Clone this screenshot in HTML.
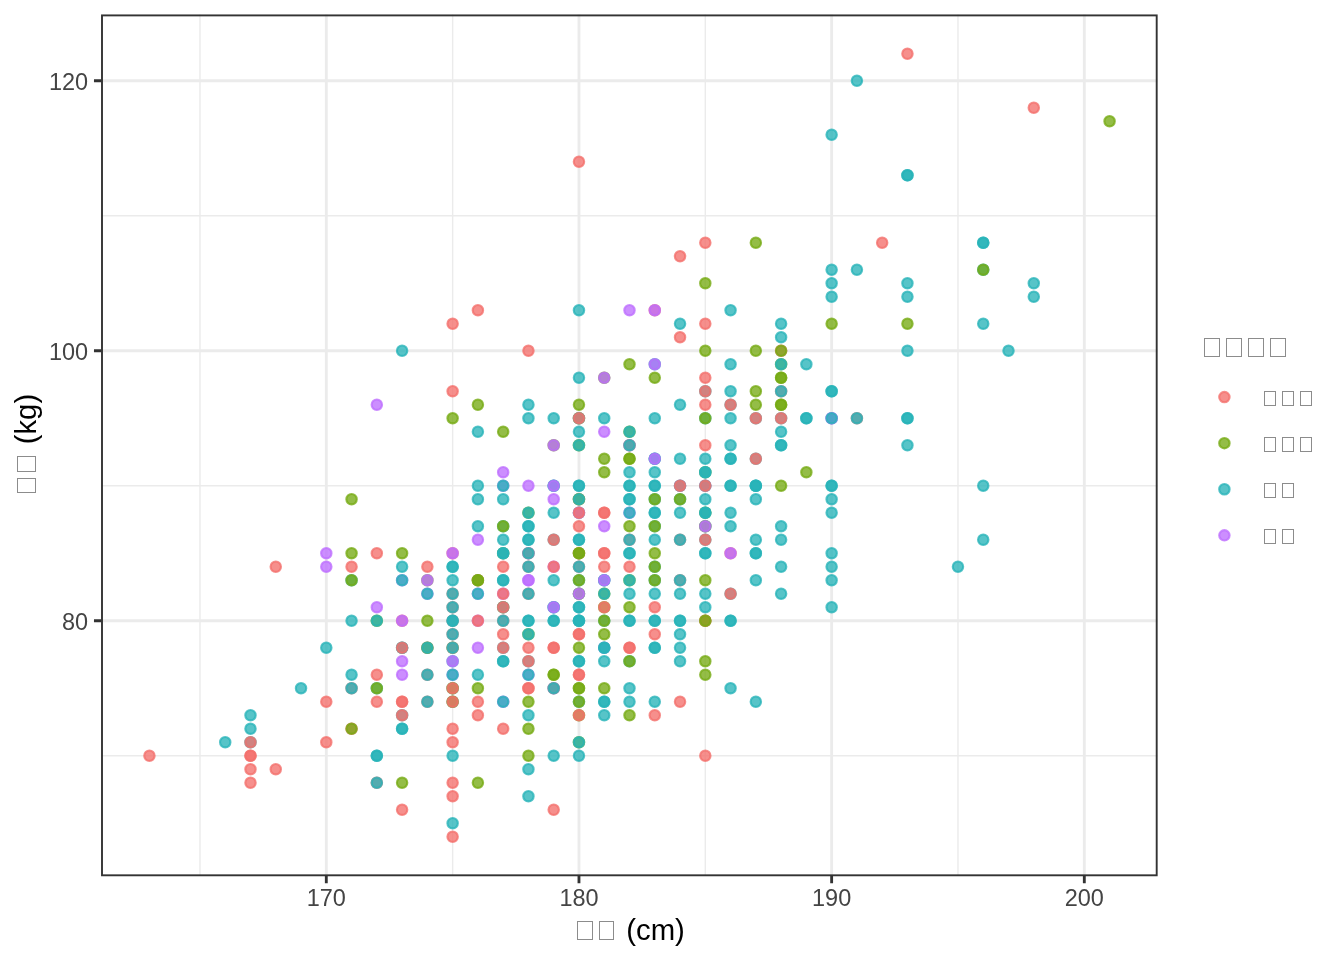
<!DOCTYPE html><html><head><meta charset="utf-8"><style>html,body{margin:0;padding:0;background:#fff;}svg{display:block;will-change:transform;}</style></head><body>
<svg width="1344" height="960" viewBox="0 0 1344 960">
<rect x="0" y="0" width="1344" height="960" fill="#fff"/>
<path d="M199.97 14.6V875.8M452.63 14.6V875.8M705.31 14.6V875.8M957.97 14.6V875.8M101.3 755.70H1157.5M101.3 485.70H1157.5M101.3 215.70H1157.5" stroke="#EBEBEB" stroke-width="1.42" fill="none"/>
<path d="M326.30 14.6V875.8M578.97 14.6V875.8M831.64 14.6V875.8M1084.31 14.6V875.8M101.3 620.70H1157.5M101.3 350.70H1157.5M101.3 80.70H1157.5" stroke="#EBEBEB" stroke-width="2.85" fill="none"/>
<g fill-opacity="0.78" stroke-opacity="0.78" stroke-width="2.1">
<circle cx="907.44" cy="53.70" r="5.21" fill="#F36F6C" stroke="#F36F6C"/>
<circle cx="856.91" cy="80.70" r="5.21" fill="#28B4B8" stroke="#28B4B8"/>
<circle cx="1033.78" cy="107.70" r="5.21" fill="#F36F6C" stroke="#F36F6C"/>
<circle cx="1109.58" cy="121.20" r="5.21" fill="#76AB13" stroke="#76AB13"/>
<circle cx="578.97" cy="161.70" r="5.21" fill="#F36F6C" stroke="#F36F6C"/>
<circle cx="831.64" cy="134.70" r="5.21" fill="#28B4B8" stroke="#28B4B8"/>
<circle cx="907.44" cy="175.20" r="5.21" fill="#28B4B8" stroke="#28B4B8"/>
<circle cx="907.44" cy="175.20" r="5.21" fill="#28B4B8" stroke="#28B4B8"/>
<circle cx="705.31" cy="242.70" r="5.21" fill="#F36F6C" stroke="#F36F6C"/>
<circle cx="680.04" cy="256.20" r="5.21" fill="#F36F6C" stroke="#F36F6C"/>
<circle cx="755.84" cy="242.70" r="5.21" fill="#76AB13" stroke="#76AB13"/>
<circle cx="882.17" cy="242.70" r="5.21" fill="#F36F6C" stroke="#F36F6C"/>
<circle cx="983.24" cy="242.70" r="5.21" fill="#28B4B8" stroke="#28B4B8"/>
<circle cx="983.24" cy="242.70" r="5.21" fill="#28B4B8" stroke="#28B4B8"/>
<circle cx="831.64" cy="269.70" r="5.21" fill="#28B4B8" stroke="#28B4B8"/>
<circle cx="856.91" cy="269.70" r="5.21" fill="#28B4B8" stroke="#28B4B8"/>
<circle cx="983.24" cy="269.70" r="5.21" fill="#28B4B8" stroke="#28B4B8"/>
<circle cx="983.24" cy="269.70" r="5.21" fill="#76AB13" stroke="#76AB13"/>
<circle cx="705.31" cy="283.20" r="5.21" fill="#76AB13" stroke="#76AB13"/>
<circle cx="831.64" cy="283.20" r="5.21" fill="#28B4B8" stroke="#28B4B8"/>
<circle cx="907.44" cy="283.20" r="5.21" fill="#28B4B8" stroke="#28B4B8"/>
<circle cx="1033.78" cy="283.20" r="5.21" fill="#28B4B8" stroke="#28B4B8"/>
<circle cx="831.64" cy="296.70" r="5.21" fill="#28B4B8" stroke="#28B4B8"/>
<circle cx="907.44" cy="296.70" r="5.21" fill="#28B4B8" stroke="#28B4B8"/>
<circle cx="1033.78" cy="296.70" r="5.21" fill="#28B4B8" stroke="#28B4B8"/>
<circle cx="578.97" cy="310.20" r="5.21" fill="#28B4B8" stroke="#28B4B8"/>
<circle cx="629.50" cy="310.20" r="5.21" fill="#BE6EFF" stroke="#BE6EFF"/>
<circle cx="654.77" cy="310.20" r="5.21" fill="#F36F6C" stroke="#F36F6C"/>
<circle cx="654.77" cy="310.20" r="5.21" fill="#BE6EFF" stroke="#BE6EFF"/>
<circle cx="730.57" cy="310.20" r="5.21" fill="#28B4B8" stroke="#28B4B8"/>
<circle cx="680.04" cy="323.70" r="5.21" fill="#28B4B8" stroke="#28B4B8"/>
<circle cx="705.31" cy="323.70" r="5.21" fill="#F36F6C" stroke="#F36F6C"/>
<circle cx="781.11" cy="323.70" r="5.21" fill="#28B4B8" stroke="#28B4B8"/>
<circle cx="831.64" cy="323.70" r="5.21" fill="#76AB13" stroke="#76AB13"/>
<circle cx="907.44" cy="323.70" r="5.21" fill="#76AB13" stroke="#76AB13"/>
<circle cx="983.24" cy="323.70" r="5.21" fill="#28B4B8" stroke="#28B4B8"/>
<circle cx="680.04" cy="337.20" r="5.21" fill="#F36F6C" stroke="#F36F6C"/>
<circle cx="781.11" cy="337.20" r="5.21" fill="#28B4B8" stroke="#28B4B8"/>
<circle cx="705.31" cy="350.70" r="5.21" fill="#76AB13" stroke="#76AB13"/>
<circle cx="755.84" cy="350.70" r="5.21" fill="#76AB13" stroke="#76AB13"/>
<circle cx="781.11" cy="350.70" r="5.21" fill="#F36F6C" stroke="#F36F6C"/>
<circle cx="781.11" cy="350.70" r="5.21" fill="#76AB13" stroke="#76AB13"/>
<circle cx="907.44" cy="350.70" r="5.21" fill="#28B4B8" stroke="#28B4B8"/>
<circle cx="1008.51" cy="350.70" r="5.21" fill="#28B4B8" stroke="#28B4B8"/>
<circle cx="402.10" cy="350.70" r="5.21" fill="#28B4B8" stroke="#28B4B8"/>
<circle cx="452.63" cy="323.70" r="5.21" fill="#F36F6C" stroke="#F36F6C"/>
<circle cx="477.90" cy="310.20" r="5.21" fill="#F36F6C" stroke="#F36F6C"/>
<circle cx="528.44" cy="350.70" r="5.21" fill="#F36F6C" stroke="#F36F6C"/>
<circle cx="376.83" cy="404.70" r="5.21" fill="#BE6EFF" stroke="#BE6EFF"/>
<circle cx="149.43" cy="755.70" r="5.21" fill="#F36F6C" stroke="#F36F6C"/>
<circle cx="225.23" cy="742.20" r="5.21" fill="#28B4B8" stroke="#28B4B8"/>
<circle cx="250.50" cy="715.20" r="5.21" fill="#28B4B8" stroke="#28B4B8"/>
<circle cx="250.50" cy="728.70" r="5.21" fill="#28B4B8" stroke="#28B4B8"/>
<circle cx="250.50" cy="742.20" r="5.21" fill="#28B4B8" stroke="#28B4B8"/>
<circle cx="250.50" cy="742.20" r="5.21" fill="#F36F6C" stroke="#F36F6C"/>
<circle cx="250.50" cy="755.70" r="5.21" fill="#F36F6C" stroke="#F36F6C"/>
<circle cx="250.50" cy="755.70" r="5.21" fill="#F36F6C" stroke="#F36F6C"/>
<circle cx="250.50" cy="769.20" r="5.21" fill="#F36F6C" stroke="#F36F6C"/>
<circle cx="250.50" cy="782.70" r="5.21" fill="#F36F6C" stroke="#F36F6C"/>
<circle cx="275.77" cy="769.20" r="5.21" fill="#F36F6C" stroke="#F36F6C"/>
<circle cx="275.77" cy="566.70" r="5.21" fill="#F36F6C" stroke="#F36F6C"/>
<circle cx="301.03" cy="688.20" r="5.21" fill="#28B4B8" stroke="#28B4B8"/>
<circle cx="326.30" cy="553.20" r="5.21" fill="#BE6EFF" stroke="#BE6EFF"/>
<circle cx="326.30" cy="566.70" r="5.21" fill="#BE6EFF" stroke="#BE6EFF"/>
<circle cx="326.30" cy="647.70" r="5.21" fill="#28B4B8" stroke="#28B4B8"/>
<circle cx="326.30" cy="701.70" r="5.21" fill="#F36F6C" stroke="#F36F6C"/>
<circle cx="326.30" cy="742.20" r="5.21" fill="#F36F6C" stroke="#F36F6C"/>
<circle cx="376.83" cy="701.70" r="5.21" fill="#F36F6C" stroke="#F36F6C"/>
<circle cx="402.10" cy="701.70" r="5.21" fill="#F36F6C" stroke="#F36F6C"/>
<circle cx="402.10" cy="701.70" r="5.21" fill="#F36F6C" stroke="#F36F6C"/>
<circle cx="427.37" cy="701.70" r="5.21" fill="#F36F6C" stroke="#F36F6C"/>
<circle cx="427.37" cy="701.70" r="5.21" fill="#28B4B8" stroke="#28B4B8"/>
<circle cx="452.63" cy="701.70" r="5.21" fill="#28B4B8" stroke="#28B4B8"/>
<circle cx="452.63" cy="701.70" r="5.21" fill="#76AB13" stroke="#76AB13"/>
<circle cx="452.63" cy="701.70" r="5.21" fill="#F36F6C" stroke="#F36F6C"/>
<circle cx="402.10" cy="715.20" r="5.21" fill="#28B4B8" stroke="#28B4B8"/>
<circle cx="402.10" cy="715.20" r="5.21" fill="#F36F6C" stroke="#F36F6C"/>
<circle cx="351.57" cy="728.70" r="5.21" fill="#F36F6C" stroke="#F36F6C"/>
<circle cx="351.57" cy="728.70" r="5.21" fill="#76AB13" stroke="#76AB13"/>
<circle cx="402.10" cy="728.70" r="5.21" fill="#28B4B8" stroke="#28B4B8"/>
<circle cx="402.10" cy="728.70" r="5.21" fill="#28B4B8" stroke="#28B4B8"/>
<circle cx="452.63" cy="728.70" r="5.21" fill="#F36F6C" stroke="#F36F6C"/>
<circle cx="452.63" cy="742.20" r="5.21" fill="#F36F6C" stroke="#F36F6C"/>
<circle cx="376.83" cy="755.70" r="5.21" fill="#28B4B8" stroke="#28B4B8"/>
<circle cx="376.83" cy="755.70" r="5.21" fill="#28B4B8" stroke="#28B4B8"/>
<circle cx="452.63" cy="755.70" r="5.21" fill="#28B4B8" stroke="#28B4B8"/>
<circle cx="376.83" cy="782.70" r="5.21" fill="#F36F6C" stroke="#F36F6C"/>
<circle cx="376.83" cy="782.70" r="5.21" fill="#28B4B8" stroke="#28B4B8"/>
<circle cx="402.10" cy="782.70" r="5.21" fill="#76AB13" stroke="#76AB13"/>
<circle cx="452.63" cy="782.70" r="5.21" fill="#F36F6C" stroke="#F36F6C"/>
<circle cx="452.63" cy="796.20" r="5.21" fill="#F36F6C" stroke="#F36F6C"/>
<circle cx="402.10" cy="809.70" r="5.21" fill="#F36F6C" stroke="#F36F6C"/>
<circle cx="452.63" cy="823.20" r="5.21" fill="#28B4B8" stroke="#28B4B8"/>
<circle cx="452.63" cy="836.70" r="5.21" fill="#F36F6C" stroke="#F36F6C"/>
<circle cx="351.57" cy="566.70" r="5.21" fill="#F36F6C" stroke="#F36F6C"/>
<circle cx="402.10" cy="566.70" r="5.21" fill="#28B4B8" stroke="#28B4B8"/>
<circle cx="427.37" cy="566.70" r="5.21" fill="#F36F6C" stroke="#F36F6C"/>
<circle cx="452.63" cy="566.70" r="5.21" fill="#28B4B8" stroke="#28B4B8"/>
<circle cx="452.63" cy="566.70" r="5.21" fill="#28B4B8" stroke="#28B4B8"/>
<circle cx="351.57" cy="580.20" r="5.21" fill="#28B4B8" stroke="#28B4B8"/>
<circle cx="351.57" cy="580.20" r="5.21" fill="#76AB13" stroke="#76AB13"/>
<circle cx="402.10" cy="580.20" r="5.21" fill="#BE6EFF" stroke="#BE6EFF"/>
<circle cx="402.10" cy="580.20" r="5.21" fill="#28B4B8" stroke="#28B4B8"/>
<circle cx="427.37" cy="580.20" r="5.21" fill="#76AB13" stroke="#76AB13"/>
<circle cx="427.37" cy="580.20" r="5.21" fill="#BE6EFF" stroke="#BE6EFF"/>
<circle cx="452.63" cy="580.20" r="5.21" fill="#28B4B8" stroke="#28B4B8"/>
<circle cx="427.37" cy="593.70" r="5.21" fill="#BE6EFF" stroke="#BE6EFF"/>
<circle cx="427.37" cy="593.70" r="5.21" fill="#28B4B8" stroke="#28B4B8"/>
<circle cx="452.63" cy="593.70" r="5.21" fill="#F36F6C" stroke="#F36F6C"/>
<circle cx="452.63" cy="593.70" r="5.21" fill="#28B4B8" stroke="#28B4B8"/>
<circle cx="376.83" cy="607.20" r="5.21" fill="#BE6EFF" stroke="#BE6EFF"/>
<circle cx="452.63" cy="607.20" r="5.21" fill="#F36F6C" stroke="#F36F6C"/>
<circle cx="452.63" cy="607.20" r="5.21" fill="#28B4B8" stroke="#28B4B8"/>
<circle cx="351.57" cy="620.70" r="5.21" fill="#28B4B8" stroke="#28B4B8"/>
<circle cx="376.83" cy="620.70" r="5.21" fill="#76AB13" stroke="#76AB13"/>
<circle cx="376.83" cy="620.70" r="5.21" fill="#28B4B8" stroke="#28B4B8"/>
<circle cx="402.10" cy="620.70" r="5.21" fill="#F36F6C" stroke="#F36F6C"/>
<circle cx="402.10" cy="620.70" r="5.21" fill="#BE6EFF" stroke="#BE6EFF"/>
<circle cx="427.37" cy="620.70" r="5.21" fill="#76AB13" stroke="#76AB13"/>
<circle cx="452.63" cy="620.70" r="5.21" fill="#F36F6C" stroke="#F36F6C"/>
<circle cx="452.63" cy="620.70" r="5.21" fill="#28B4B8" stroke="#28B4B8"/>
<circle cx="452.63" cy="620.70" r="5.21" fill="#28B4B8" stroke="#28B4B8"/>
<circle cx="452.63" cy="634.20" r="5.21" fill="#F36F6C" stroke="#F36F6C"/>
<circle cx="452.63" cy="634.20" r="5.21" fill="#28B4B8" stroke="#28B4B8"/>
<circle cx="402.10" cy="647.70" r="5.21" fill="#28B4B8" stroke="#28B4B8"/>
<circle cx="402.10" cy="647.70" r="5.21" fill="#28B4B8" stroke="#28B4B8"/>
<circle cx="402.10" cy="647.70" r="5.21" fill="#F36F6C" stroke="#F36F6C"/>
<circle cx="427.37" cy="647.70" r="5.21" fill="#F36F6C" stroke="#F36F6C"/>
<circle cx="427.37" cy="647.70" r="5.21" fill="#76AB13" stroke="#76AB13"/>
<circle cx="427.37" cy="647.70" r="5.21" fill="#28B4B8" stroke="#28B4B8"/>
<circle cx="452.63" cy="647.70" r="5.21" fill="#76AB13" stroke="#76AB13"/>
<circle cx="452.63" cy="647.70" r="5.21" fill="#F36F6C" stroke="#F36F6C"/>
<circle cx="452.63" cy="647.70" r="5.21" fill="#28B4B8" stroke="#28B4B8"/>
<circle cx="402.10" cy="661.20" r="5.21" fill="#BE6EFF" stroke="#BE6EFF"/>
<circle cx="452.63" cy="661.20" r="5.21" fill="#28B4B8" stroke="#28B4B8"/>
<circle cx="452.63" cy="661.20" r="5.21" fill="#BE6EFF" stroke="#BE6EFF"/>
<circle cx="351.57" cy="674.70" r="5.21" fill="#28B4B8" stroke="#28B4B8"/>
<circle cx="376.83" cy="674.70" r="5.21" fill="#F36F6C" stroke="#F36F6C"/>
<circle cx="402.10" cy="674.70" r="5.21" fill="#BE6EFF" stroke="#BE6EFF"/>
<circle cx="427.37" cy="674.70" r="5.21" fill="#F36F6C" stroke="#F36F6C"/>
<circle cx="427.37" cy="674.70" r="5.21" fill="#28B4B8" stroke="#28B4B8"/>
<circle cx="452.63" cy="674.70" r="5.21" fill="#BE6EFF" stroke="#BE6EFF"/>
<circle cx="452.63" cy="674.70" r="5.21" fill="#28B4B8" stroke="#28B4B8"/>
<circle cx="351.57" cy="688.20" r="5.21" fill="#F36F6C" stroke="#F36F6C"/>
<circle cx="351.57" cy="688.20" r="5.21" fill="#28B4B8" stroke="#28B4B8"/>
<circle cx="376.83" cy="688.20" r="5.21" fill="#28B4B8" stroke="#28B4B8"/>
<circle cx="376.83" cy="688.20" r="5.21" fill="#76AB13" stroke="#76AB13"/>
<circle cx="452.63" cy="688.20" r="5.21" fill="#28B4B8" stroke="#28B4B8"/>
<circle cx="452.63" cy="688.20" r="5.21" fill="#76AB13" stroke="#76AB13"/>
<circle cx="452.63" cy="688.20" r="5.21" fill="#F36F6C" stroke="#F36F6C"/>
<circle cx="351.57" cy="499.20" r="5.21" fill="#76AB13" stroke="#76AB13"/>
<circle cx="351.57" cy="553.20" r="5.21" fill="#76AB13" stroke="#76AB13"/>
<circle cx="376.83" cy="553.20" r="5.21" fill="#F36F6C" stroke="#F36F6C"/>
<circle cx="402.10" cy="553.20" r="5.21" fill="#76AB13" stroke="#76AB13"/>
<circle cx="452.63" cy="553.20" r="5.21" fill="#F36F6C" stroke="#F36F6C"/>
<circle cx="452.63" cy="553.20" r="5.21" fill="#BE6EFF" stroke="#BE6EFF"/>
<circle cx="477.90" cy="701.70" r="5.21" fill="#F36F6C" stroke="#F36F6C"/>
<circle cx="503.17" cy="701.70" r="5.21" fill="#BE6EFF" stroke="#BE6EFF"/>
<circle cx="503.17" cy="701.70" r="5.21" fill="#28B4B8" stroke="#28B4B8"/>
<circle cx="528.44" cy="701.70" r="5.21" fill="#76AB13" stroke="#76AB13"/>
<circle cx="578.97" cy="701.70" r="5.21" fill="#28B4B8" stroke="#28B4B8"/>
<circle cx="578.97" cy="701.70" r="5.21" fill="#76AB13" stroke="#76AB13"/>
<circle cx="477.90" cy="715.20" r="5.21" fill="#F36F6C" stroke="#F36F6C"/>
<circle cx="528.44" cy="715.20" r="5.21" fill="#28B4B8" stroke="#28B4B8"/>
<circle cx="578.97" cy="715.20" r="5.21" fill="#76AB13" stroke="#76AB13"/>
<circle cx="578.97" cy="715.20" r="5.21" fill="#F36F6C" stroke="#F36F6C"/>
<circle cx="503.17" cy="728.70" r="5.21" fill="#F36F6C" stroke="#F36F6C"/>
<circle cx="528.44" cy="728.70" r="5.21" fill="#76AB13" stroke="#76AB13"/>
<circle cx="578.97" cy="742.20" r="5.21" fill="#76AB13" stroke="#76AB13"/>
<circle cx="578.97" cy="742.20" r="5.21" fill="#28B4B8" stroke="#28B4B8"/>
<circle cx="528.44" cy="755.70" r="5.21" fill="#76AB13" stroke="#76AB13"/>
<circle cx="553.70" cy="755.70" r="5.21" fill="#28B4B8" stroke="#28B4B8"/>
<circle cx="578.97" cy="755.70" r="5.21" fill="#28B4B8" stroke="#28B4B8"/>
<circle cx="528.44" cy="769.20" r="5.21" fill="#28B4B8" stroke="#28B4B8"/>
<circle cx="477.90" cy="782.70" r="5.21" fill="#76AB13" stroke="#76AB13"/>
<circle cx="528.44" cy="796.20" r="5.21" fill="#28B4B8" stroke="#28B4B8"/>
<circle cx="553.70" cy="809.70" r="5.21" fill="#F36F6C" stroke="#F36F6C"/>
<circle cx="503.17" cy="566.70" r="5.21" fill="#F36F6C" stroke="#F36F6C"/>
<circle cx="528.44" cy="566.70" r="5.21" fill="#F36F6C" stroke="#F36F6C"/>
<circle cx="528.44" cy="566.70" r="5.21" fill="#28B4B8" stroke="#28B4B8"/>
<circle cx="553.70" cy="566.70" r="5.21" fill="#BE6EFF" stroke="#BE6EFF"/>
<circle cx="553.70" cy="566.70" r="5.21" fill="#F36F6C" stroke="#F36F6C"/>
<circle cx="578.97" cy="566.70" r="5.21" fill="#F36F6C" stroke="#F36F6C"/>
<circle cx="578.97" cy="566.70" r="5.21" fill="#28B4B8" stroke="#28B4B8"/>
<circle cx="477.90" cy="580.20" r="5.21" fill="#F36F6C" stroke="#F36F6C"/>
<circle cx="477.90" cy="580.20" r="5.21" fill="#76AB13" stroke="#76AB13"/>
<circle cx="477.90" cy="580.20" r="5.21" fill="#76AB13" stroke="#76AB13"/>
<circle cx="503.17" cy="580.20" r="5.21" fill="#28B4B8" stroke="#28B4B8"/>
<circle cx="503.17" cy="580.20" r="5.21" fill="#28B4B8" stroke="#28B4B8"/>
<circle cx="528.44" cy="580.20" r="5.21" fill="#BE6EFF" stroke="#BE6EFF"/>
<circle cx="528.44" cy="580.20" r="5.21" fill="#BE6EFF" stroke="#BE6EFF"/>
<circle cx="553.70" cy="580.20" r="5.21" fill="#28B4B8" stroke="#28B4B8"/>
<circle cx="578.97" cy="580.20" r="5.21" fill="#28B4B8" stroke="#28B4B8"/>
<circle cx="578.97" cy="580.20" r="5.21" fill="#76AB13" stroke="#76AB13"/>
<circle cx="477.90" cy="593.70" r="5.21" fill="#BE6EFF" stroke="#BE6EFF"/>
<circle cx="477.90" cy="593.70" r="5.21" fill="#28B4B8" stroke="#28B4B8"/>
<circle cx="503.17" cy="593.70" r="5.21" fill="#BE6EFF" stroke="#BE6EFF"/>
<circle cx="503.17" cy="593.70" r="5.21" fill="#F36F6C" stroke="#F36F6C"/>
<circle cx="528.44" cy="593.70" r="5.21" fill="#F36F6C" stroke="#F36F6C"/>
<circle cx="528.44" cy="593.70" r="5.21" fill="#28B4B8" stroke="#28B4B8"/>
<circle cx="578.97" cy="593.70" r="5.21" fill="#28B4B8" stroke="#28B4B8"/>
<circle cx="578.97" cy="593.70" r="5.21" fill="#76AB13" stroke="#76AB13"/>
<circle cx="578.97" cy="593.70" r="5.21" fill="#BE6EFF" stroke="#BE6EFF"/>
<circle cx="503.17" cy="607.20" r="5.21" fill="#76AB13" stroke="#76AB13"/>
<circle cx="503.17" cy="607.20" r="5.21" fill="#28B4B8" stroke="#28B4B8"/>
<circle cx="503.17" cy="607.20" r="5.21" fill="#F36F6C" stroke="#F36F6C"/>
<circle cx="553.70" cy="607.20" r="5.21" fill="#28B4B8" stroke="#28B4B8"/>
<circle cx="553.70" cy="607.20" r="5.21" fill="#28B4B8" stroke="#28B4B8"/>
<circle cx="553.70" cy="607.20" r="5.21" fill="#BE6EFF" stroke="#BE6EFF"/>
<circle cx="578.97" cy="607.20" r="5.21" fill="#28B4B8" stroke="#28B4B8"/>
<circle cx="578.97" cy="607.20" r="5.21" fill="#28B4B8" stroke="#28B4B8"/>
<circle cx="477.90" cy="620.70" r="5.21" fill="#BE6EFF" stroke="#BE6EFF"/>
<circle cx="477.90" cy="620.70" r="5.21" fill="#F36F6C" stroke="#F36F6C"/>
<circle cx="503.17" cy="620.70" r="5.21" fill="#F36F6C" stroke="#F36F6C"/>
<circle cx="503.17" cy="620.70" r="5.21" fill="#28B4B8" stroke="#28B4B8"/>
<circle cx="528.44" cy="620.70" r="5.21" fill="#28B4B8" stroke="#28B4B8"/>
<circle cx="528.44" cy="620.70" r="5.21" fill="#28B4B8" stroke="#28B4B8"/>
<circle cx="553.70" cy="620.70" r="5.21" fill="#28B4B8" stroke="#28B4B8"/>
<circle cx="553.70" cy="620.70" r="5.21" fill="#28B4B8" stroke="#28B4B8"/>
<circle cx="578.97" cy="620.70" r="5.21" fill="#28B4B8" stroke="#28B4B8"/>
<circle cx="578.97" cy="620.70" r="5.21" fill="#28B4B8" stroke="#28B4B8"/>
<circle cx="578.97" cy="620.70" r="5.21" fill="#28B4B8" stroke="#28B4B8"/>
<circle cx="503.17" cy="634.20" r="5.21" fill="#F36F6C" stroke="#F36F6C"/>
<circle cx="528.44" cy="634.20" r="5.21" fill="#76AB13" stroke="#76AB13"/>
<circle cx="528.44" cy="634.20" r="5.21" fill="#28B4B8" stroke="#28B4B8"/>
<circle cx="578.97" cy="634.20" r="5.21" fill="#F36F6C" stroke="#F36F6C"/>
<circle cx="578.97" cy="634.20" r="5.21" fill="#F36F6C" stroke="#F36F6C"/>
<circle cx="477.90" cy="647.70" r="5.21" fill="#BE6EFF" stroke="#BE6EFF"/>
<circle cx="503.17" cy="647.70" r="5.21" fill="#28B4B8" stroke="#28B4B8"/>
<circle cx="503.17" cy="647.70" r="5.21" fill="#F36F6C" stroke="#F36F6C"/>
<circle cx="528.44" cy="647.70" r="5.21" fill="#F36F6C" stroke="#F36F6C"/>
<circle cx="553.70" cy="647.70" r="5.21" fill="#F36F6C" stroke="#F36F6C"/>
<circle cx="553.70" cy="647.70" r="5.21" fill="#F36F6C" stroke="#F36F6C"/>
<circle cx="578.97" cy="647.70" r="5.21" fill="#76AB13" stroke="#76AB13"/>
<circle cx="503.17" cy="661.20" r="5.21" fill="#28B4B8" stroke="#28B4B8"/>
<circle cx="503.17" cy="661.20" r="5.21" fill="#28B4B8" stroke="#28B4B8"/>
<circle cx="528.44" cy="661.20" r="5.21" fill="#28B4B8" stroke="#28B4B8"/>
<circle cx="528.44" cy="661.20" r="5.21" fill="#F36F6C" stroke="#F36F6C"/>
<circle cx="578.97" cy="661.20" r="5.21" fill="#28B4B8" stroke="#28B4B8"/>
<circle cx="578.97" cy="661.20" r="5.21" fill="#28B4B8" stroke="#28B4B8"/>
<circle cx="477.90" cy="674.70" r="5.21" fill="#28B4B8" stroke="#28B4B8"/>
<circle cx="528.44" cy="674.70" r="5.21" fill="#BE6EFF" stroke="#BE6EFF"/>
<circle cx="528.44" cy="674.70" r="5.21" fill="#28B4B8" stroke="#28B4B8"/>
<circle cx="553.70" cy="674.70" r="5.21" fill="#76AB13" stroke="#76AB13"/>
<circle cx="553.70" cy="674.70" r="5.21" fill="#76AB13" stroke="#76AB13"/>
<circle cx="578.97" cy="674.70" r="5.21" fill="#F36F6C" stroke="#F36F6C"/>
<circle cx="578.97" cy="674.70" r="5.21" fill="#F36F6C" stroke="#F36F6C"/>
<circle cx="477.90" cy="688.20" r="5.21" fill="#76AB13" stroke="#76AB13"/>
<circle cx="528.44" cy="688.20" r="5.21" fill="#F36F6C" stroke="#F36F6C"/>
<circle cx="528.44" cy="688.20" r="5.21" fill="#F36F6C" stroke="#F36F6C"/>
<circle cx="553.70" cy="688.20" r="5.21" fill="#BE6EFF" stroke="#BE6EFF"/>
<circle cx="553.70" cy="688.20" r="5.21" fill="#F36F6C" stroke="#F36F6C"/>
<circle cx="553.70" cy="688.20" r="5.21" fill="#28B4B8" stroke="#28B4B8"/>
<circle cx="578.97" cy="688.20" r="5.21" fill="#76AB13" stroke="#76AB13"/>
<circle cx="578.97" cy="688.20" r="5.21" fill="#76AB13" stroke="#76AB13"/>
<circle cx="477.90" cy="431.70" r="5.21" fill="#28B4B8" stroke="#28B4B8"/>
<circle cx="503.17" cy="431.70" r="5.21" fill="#76AB13" stroke="#76AB13"/>
<circle cx="578.97" cy="431.70" r="5.21" fill="#28B4B8" stroke="#28B4B8"/>
<circle cx="553.70" cy="445.20" r="5.21" fill="#76AB13" stroke="#76AB13"/>
<circle cx="553.70" cy="445.20" r="5.21" fill="#BE6EFF" stroke="#BE6EFF"/>
<circle cx="578.97" cy="445.20" r="5.21" fill="#76AB13" stroke="#76AB13"/>
<circle cx="578.97" cy="445.20" r="5.21" fill="#28B4B8" stroke="#28B4B8"/>
<circle cx="503.17" cy="472.20" r="5.21" fill="#BE6EFF" stroke="#BE6EFF"/>
<circle cx="477.90" cy="485.70" r="5.21" fill="#28B4B8" stroke="#28B4B8"/>
<circle cx="503.17" cy="485.70" r="5.21" fill="#BE6EFF" stroke="#BE6EFF"/>
<circle cx="503.17" cy="485.70" r="5.21" fill="#28B4B8" stroke="#28B4B8"/>
<circle cx="528.44" cy="485.70" r="5.21" fill="#BE6EFF" stroke="#BE6EFF"/>
<circle cx="553.70" cy="485.70" r="5.21" fill="#28B4B8" stroke="#28B4B8"/>
<circle cx="553.70" cy="485.70" r="5.21" fill="#28B4B8" stroke="#28B4B8"/>
<circle cx="553.70" cy="485.70" r="5.21" fill="#BE6EFF" stroke="#BE6EFF"/>
<circle cx="578.97" cy="485.70" r="5.21" fill="#28B4B8" stroke="#28B4B8"/>
<circle cx="578.97" cy="485.70" r="5.21" fill="#28B4B8" stroke="#28B4B8"/>
<circle cx="477.90" cy="499.20" r="5.21" fill="#28B4B8" stroke="#28B4B8"/>
<circle cx="503.17" cy="499.20" r="5.21" fill="#28B4B8" stroke="#28B4B8"/>
<circle cx="553.70" cy="499.20" r="5.21" fill="#BE6EFF" stroke="#BE6EFF"/>
<circle cx="578.97" cy="499.20" r="5.21" fill="#F36F6C" stroke="#F36F6C"/>
<circle cx="578.97" cy="499.20" r="5.21" fill="#76AB13" stroke="#76AB13"/>
<circle cx="578.97" cy="499.20" r="5.21" fill="#28B4B8" stroke="#28B4B8"/>
<circle cx="528.44" cy="512.70" r="5.21" fill="#76AB13" stroke="#76AB13"/>
<circle cx="528.44" cy="512.70" r="5.21" fill="#28B4B8" stroke="#28B4B8"/>
<circle cx="553.70" cy="512.70" r="5.21" fill="#28B4B8" stroke="#28B4B8"/>
<circle cx="578.97" cy="512.70" r="5.21" fill="#28B4B8" stroke="#28B4B8"/>
<circle cx="578.97" cy="512.70" r="5.21" fill="#BE6EFF" stroke="#BE6EFF"/>
<circle cx="578.97" cy="512.70" r="5.21" fill="#F36F6C" stroke="#F36F6C"/>
<circle cx="477.90" cy="526.20" r="5.21" fill="#28B4B8" stroke="#28B4B8"/>
<circle cx="503.17" cy="526.20" r="5.21" fill="#28B4B8" stroke="#28B4B8"/>
<circle cx="503.17" cy="526.20" r="5.21" fill="#76AB13" stroke="#76AB13"/>
<circle cx="528.44" cy="526.20" r="5.21" fill="#28B4B8" stroke="#28B4B8"/>
<circle cx="528.44" cy="526.20" r="5.21" fill="#28B4B8" stroke="#28B4B8"/>
<circle cx="578.97" cy="526.20" r="5.21" fill="#F36F6C" stroke="#F36F6C"/>
<circle cx="477.90" cy="539.70" r="5.21" fill="#BE6EFF" stroke="#BE6EFF"/>
<circle cx="503.17" cy="539.70" r="5.21" fill="#28B4B8" stroke="#28B4B8"/>
<circle cx="528.44" cy="539.70" r="5.21" fill="#28B4B8" stroke="#28B4B8"/>
<circle cx="528.44" cy="539.70" r="5.21" fill="#28B4B8" stroke="#28B4B8"/>
<circle cx="553.70" cy="539.70" r="5.21" fill="#28B4B8" stroke="#28B4B8"/>
<circle cx="553.70" cy="539.70" r="5.21" fill="#F36F6C" stroke="#F36F6C"/>
<circle cx="578.97" cy="539.70" r="5.21" fill="#28B4B8" stroke="#28B4B8"/>
<circle cx="578.97" cy="539.70" r="5.21" fill="#28B4B8" stroke="#28B4B8"/>
<circle cx="503.17" cy="553.20" r="5.21" fill="#76AB13" stroke="#76AB13"/>
<circle cx="503.17" cy="553.20" r="5.21" fill="#28B4B8" stroke="#28B4B8"/>
<circle cx="503.17" cy="553.20" r="5.21" fill="#28B4B8" stroke="#28B4B8"/>
<circle cx="528.44" cy="553.20" r="5.21" fill="#BE6EFF" stroke="#BE6EFF"/>
<circle cx="528.44" cy="553.20" r="5.21" fill="#F36F6C" stroke="#F36F6C"/>
<circle cx="528.44" cy="553.20" r="5.21" fill="#28B4B8" stroke="#28B4B8"/>
<circle cx="578.97" cy="553.20" r="5.21" fill="#F36F6C" stroke="#F36F6C"/>
<circle cx="578.97" cy="553.20" r="5.21" fill="#76AB13" stroke="#76AB13"/>
<circle cx="578.97" cy="553.20" r="5.21" fill="#76AB13" stroke="#76AB13"/>
<circle cx="578.97" cy="377.70" r="5.21" fill="#28B4B8" stroke="#28B4B8"/>
<circle cx="452.63" cy="391.20" r="5.21" fill="#F36F6C" stroke="#F36F6C"/>
<circle cx="477.90" cy="404.70" r="5.21" fill="#76AB13" stroke="#76AB13"/>
<circle cx="528.44" cy="404.70" r="5.21" fill="#28B4B8" stroke="#28B4B8"/>
<circle cx="578.97" cy="404.70" r="5.21" fill="#76AB13" stroke="#76AB13"/>
<circle cx="452.63" cy="418.20" r="5.21" fill="#76AB13" stroke="#76AB13"/>
<circle cx="528.44" cy="418.20" r="5.21" fill="#28B4B8" stroke="#28B4B8"/>
<circle cx="553.70" cy="418.20" r="5.21" fill="#28B4B8" stroke="#28B4B8"/>
<circle cx="578.97" cy="418.20" r="5.21" fill="#76AB13" stroke="#76AB13"/>
<circle cx="578.97" cy="418.20" r="5.21" fill="#28B4B8" stroke="#28B4B8"/>
<circle cx="578.97" cy="418.20" r="5.21" fill="#F36F6C" stroke="#F36F6C"/>
<circle cx="604.24" cy="701.70" r="5.21" fill="#28B4B8" stroke="#28B4B8"/>
<circle cx="604.24" cy="701.70" r="5.21" fill="#28B4B8" stroke="#28B4B8"/>
<circle cx="629.50" cy="701.70" r="5.21" fill="#28B4B8" stroke="#28B4B8"/>
<circle cx="654.77" cy="701.70" r="5.21" fill="#28B4B8" stroke="#28B4B8"/>
<circle cx="680.04" cy="701.70" r="5.21" fill="#F36F6C" stroke="#F36F6C"/>
<circle cx="604.24" cy="715.20" r="5.21" fill="#28B4B8" stroke="#28B4B8"/>
<circle cx="629.50" cy="715.20" r="5.21" fill="#76AB13" stroke="#76AB13"/>
<circle cx="654.77" cy="715.20" r="5.21" fill="#F36F6C" stroke="#F36F6C"/>
<circle cx="705.31" cy="755.70" r="5.21" fill="#F36F6C" stroke="#F36F6C"/>
<circle cx="604.24" cy="566.70" r="5.21" fill="#F36F6C" stroke="#F36F6C"/>
<circle cx="629.50" cy="566.70" r="5.21" fill="#F36F6C" stroke="#F36F6C"/>
<circle cx="654.77" cy="566.70" r="5.21" fill="#28B4B8" stroke="#28B4B8"/>
<circle cx="654.77" cy="566.70" r="5.21" fill="#76AB13" stroke="#76AB13"/>
<circle cx="604.24" cy="580.20" r="5.21" fill="#28B4B8" stroke="#28B4B8"/>
<circle cx="604.24" cy="580.20" r="5.21" fill="#28B4B8" stroke="#28B4B8"/>
<circle cx="604.24" cy="580.20" r="5.21" fill="#BE6EFF" stroke="#BE6EFF"/>
<circle cx="629.50" cy="580.20" r="5.21" fill="#76AB13" stroke="#76AB13"/>
<circle cx="629.50" cy="580.20" r="5.21" fill="#28B4B8" stroke="#28B4B8"/>
<circle cx="654.77" cy="580.20" r="5.21" fill="#28B4B8" stroke="#28B4B8"/>
<circle cx="654.77" cy="580.20" r="5.21" fill="#76AB13" stroke="#76AB13"/>
<circle cx="680.04" cy="580.20" r="5.21" fill="#F36F6C" stroke="#F36F6C"/>
<circle cx="680.04" cy="580.20" r="5.21" fill="#28B4B8" stroke="#28B4B8"/>
<circle cx="705.31" cy="580.20" r="5.21" fill="#76AB13" stroke="#76AB13"/>
<circle cx="604.24" cy="593.70" r="5.21" fill="#76AB13" stroke="#76AB13"/>
<circle cx="604.24" cy="593.70" r="5.21" fill="#28B4B8" stroke="#28B4B8"/>
<circle cx="629.50" cy="593.70" r="5.21" fill="#28B4B8" stroke="#28B4B8"/>
<circle cx="654.77" cy="593.70" r="5.21" fill="#28B4B8" stroke="#28B4B8"/>
<circle cx="680.04" cy="593.70" r="5.21" fill="#28B4B8" stroke="#28B4B8"/>
<circle cx="705.31" cy="593.70" r="5.21" fill="#28B4B8" stroke="#28B4B8"/>
<circle cx="604.24" cy="607.20" r="5.21" fill="#76AB13" stroke="#76AB13"/>
<circle cx="604.24" cy="607.20" r="5.21" fill="#F36F6C" stroke="#F36F6C"/>
<circle cx="629.50" cy="607.20" r="5.21" fill="#76AB13" stroke="#76AB13"/>
<circle cx="654.77" cy="607.20" r="5.21" fill="#F36F6C" stroke="#F36F6C"/>
<circle cx="705.31" cy="607.20" r="5.21" fill="#28B4B8" stroke="#28B4B8"/>
<circle cx="604.24" cy="620.70" r="5.21" fill="#28B4B8" stroke="#28B4B8"/>
<circle cx="604.24" cy="620.70" r="5.21" fill="#76AB13" stroke="#76AB13"/>
<circle cx="629.50" cy="620.70" r="5.21" fill="#28B4B8" stroke="#28B4B8"/>
<circle cx="629.50" cy="620.70" r="5.21" fill="#28B4B8" stroke="#28B4B8"/>
<circle cx="654.77" cy="620.70" r="5.21" fill="#28B4B8" stroke="#28B4B8"/>
<circle cx="654.77" cy="620.70" r="5.21" fill="#28B4B8" stroke="#28B4B8"/>
<circle cx="680.04" cy="620.70" r="5.21" fill="#28B4B8" stroke="#28B4B8"/>
<circle cx="680.04" cy="620.70" r="5.21" fill="#28B4B8" stroke="#28B4B8"/>
<circle cx="705.31" cy="620.70" r="5.21" fill="#76AB13" stroke="#76AB13"/>
<circle cx="705.31" cy="620.70" r="5.21" fill="#F36F6C" stroke="#F36F6C"/>
<circle cx="705.31" cy="620.70" r="5.21" fill="#76AB13" stroke="#76AB13"/>
<circle cx="604.24" cy="634.20" r="5.21" fill="#76AB13" stroke="#76AB13"/>
<circle cx="654.77" cy="634.20" r="5.21" fill="#F36F6C" stroke="#F36F6C"/>
<circle cx="680.04" cy="634.20" r="5.21" fill="#28B4B8" stroke="#28B4B8"/>
<circle cx="604.24" cy="647.70" r="5.21" fill="#BE6EFF" stroke="#BE6EFF"/>
<circle cx="604.24" cy="647.70" r="5.21" fill="#28B4B8" stroke="#28B4B8"/>
<circle cx="604.24" cy="647.70" r="5.21" fill="#28B4B8" stroke="#28B4B8"/>
<circle cx="629.50" cy="647.70" r="5.21" fill="#F36F6C" stroke="#F36F6C"/>
<circle cx="629.50" cy="647.70" r="5.21" fill="#F36F6C" stroke="#F36F6C"/>
<circle cx="654.77" cy="647.70" r="5.21" fill="#28B4B8" stroke="#28B4B8"/>
<circle cx="654.77" cy="647.70" r="5.21" fill="#28B4B8" stroke="#28B4B8"/>
<circle cx="680.04" cy="647.70" r="5.21" fill="#28B4B8" stroke="#28B4B8"/>
<circle cx="604.24" cy="661.20" r="5.21" fill="#28B4B8" stroke="#28B4B8"/>
<circle cx="629.50" cy="661.20" r="5.21" fill="#28B4B8" stroke="#28B4B8"/>
<circle cx="629.50" cy="661.20" r="5.21" fill="#76AB13" stroke="#76AB13"/>
<circle cx="680.04" cy="661.20" r="5.21" fill="#28B4B8" stroke="#28B4B8"/>
<circle cx="705.31" cy="661.20" r="5.21" fill="#76AB13" stroke="#76AB13"/>
<circle cx="705.31" cy="674.70" r="5.21" fill="#76AB13" stroke="#76AB13"/>
<circle cx="604.24" cy="688.20" r="5.21" fill="#76AB13" stroke="#76AB13"/>
<circle cx="629.50" cy="688.20" r="5.21" fill="#28B4B8" stroke="#28B4B8"/>
<circle cx="604.24" cy="431.70" r="5.21" fill="#BE6EFF" stroke="#BE6EFF"/>
<circle cx="629.50" cy="431.70" r="5.21" fill="#76AB13" stroke="#76AB13"/>
<circle cx="629.50" cy="431.70" r="5.21" fill="#28B4B8" stroke="#28B4B8"/>
<circle cx="629.50" cy="445.20" r="5.21" fill="#BE6EFF" stroke="#BE6EFF"/>
<circle cx="629.50" cy="445.20" r="5.21" fill="#F36F6C" stroke="#F36F6C"/>
<circle cx="629.50" cy="445.20" r="5.21" fill="#28B4B8" stroke="#28B4B8"/>
<circle cx="705.31" cy="445.20" r="5.21" fill="#F36F6C" stroke="#F36F6C"/>
<circle cx="604.24" cy="458.70" r="5.21" fill="#76AB13" stroke="#76AB13"/>
<circle cx="629.50" cy="458.70" r="5.21" fill="#76AB13" stroke="#76AB13"/>
<circle cx="629.50" cy="458.70" r="5.21" fill="#76AB13" stroke="#76AB13"/>
<circle cx="654.77" cy="458.70" r="5.21" fill="#28B4B8" stroke="#28B4B8"/>
<circle cx="654.77" cy="458.70" r="5.21" fill="#28B4B8" stroke="#28B4B8"/>
<circle cx="654.77" cy="458.70" r="5.21" fill="#BE6EFF" stroke="#BE6EFF"/>
<circle cx="680.04" cy="458.70" r="5.21" fill="#28B4B8" stroke="#28B4B8"/>
<circle cx="705.31" cy="458.70" r="5.21" fill="#28B4B8" stroke="#28B4B8"/>
<circle cx="604.24" cy="472.20" r="5.21" fill="#76AB13" stroke="#76AB13"/>
<circle cx="629.50" cy="472.20" r="5.21" fill="#28B4B8" stroke="#28B4B8"/>
<circle cx="654.77" cy="472.20" r="5.21" fill="#28B4B8" stroke="#28B4B8"/>
<circle cx="705.31" cy="472.20" r="5.21" fill="#76AB13" stroke="#76AB13"/>
<circle cx="705.31" cy="472.20" r="5.21" fill="#28B4B8" stroke="#28B4B8"/>
<circle cx="705.31" cy="472.20" r="5.21" fill="#28B4B8" stroke="#28B4B8"/>
<circle cx="629.50" cy="485.70" r="5.21" fill="#28B4B8" stroke="#28B4B8"/>
<circle cx="629.50" cy="485.70" r="5.21" fill="#28B4B8" stroke="#28B4B8"/>
<circle cx="654.77" cy="485.70" r="5.21" fill="#28B4B8" stroke="#28B4B8"/>
<circle cx="654.77" cy="485.70" r="5.21" fill="#28B4B8" stroke="#28B4B8"/>
<circle cx="680.04" cy="485.70" r="5.21" fill="#BE6EFF" stroke="#BE6EFF"/>
<circle cx="680.04" cy="485.70" r="5.21" fill="#28B4B8" stroke="#28B4B8"/>
<circle cx="680.04" cy="485.70" r="5.21" fill="#F36F6C" stroke="#F36F6C"/>
<circle cx="705.31" cy="485.70" r="5.21" fill="#BE6EFF" stroke="#BE6EFF"/>
<circle cx="705.31" cy="485.70" r="5.21" fill="#28B4B8" stroke="#28B4B8"/>
<circle cx="705.31" cy="485.70" r="5.21" fill="#F36F6C" stroke="#F36F6C"/>
<circle cx="629.50" cy="499.20" r="5.21" fill="#28B4B8" stroke="#28B4B8"/>
<circle cx="629.50" cy="499.20" r="5.21" fill="#28B4B8" stroke="#28B4B8"/>
<circle cx="654.77" cy="499.20" r="5.21" fill="#28B4B8" stroke="#28B4B8"/>
<circle cx="654.77" cy="499.20" r="5.21" fill="#76AB13" stroke="#76AB13"/>
<circle cx="680.04" cy="499.20" r="5.21" fill="#28B4B8" stroke="#28B4B8"/>
<circle cx="680.04" cy="499.20" r="5.21" fill="#76AB13" stroke="#76AB13"/>
<circle cx="705.31" cy="499.20" r="5.21" fill="#28B4B8" stroke="#28B4B8"/>
<circle cx="604.24" cy="512.70" r="5.21" fill="#F36F6C" stroke="#F36F6C"/>
<circle cx="604.24" cy="512.70" r="5.21" fill="#F36F6C" stroke="#F36F6C"/>
<circle cx="629.50" cy="512.70" r="5.21" fill="#BE6EFF" stroke="#BE6EFF"/>
<circle cx="629.50" cy="512.70" r="5.21" fill="#28B4B8" stroke="#28B4B8"/>
<circle cx="654.77" cy="512.70" r="5.21" fill="#28B4B8" stroke="#28B4B8"/>
<circle cx="654.77" cy="512.70" r="5.21" fill="#28B4B8" stroke="#28B4B8"/>
<circle cx="680.04" cy="512.70" r="5.21" fill="#28B4B8" stroke="#28B4B8"/>
<circle cx="705.31" cy="512.70" r="5.21" fill="#76AB13" stroke="#76AB13"/>
<circle cx="705.31" cy="512.70" r="5.21" fill="#28B4B8" stroke="#28B4B8"/>
<circle cx="705.31" cy="512.70" r="5.21" fill="#28B4B8" stroke="#28B4B8"/>
<circle cx="604.24" cy="526.20" r="5.21" fill="#BE6EFF" stroke="#BE6EFF"/>
<circle cx="629.50" cy="526.20" r="5.21" fill="#76AB13" stroke="#76AB13"/>
<circle cx="654.77" cy="526.20" r="5.21" fill="#28B4B8" stroke="#28B4B8"/>
<circle cx="654.77" cy="526.20" r="5.21" fill="#76AB13" stroke="#76AB13"/>
<circle cx="705.31" cy="526.20" r="5.21" fill="#28B4B8" stroke="#28B4B8"/>
<circle cx="705.31" cy="526.20" r="5.21" fill="#76AB13" stroke="#76AB13"/>
<circle cx="705.31" cy="526.20" r="5.21" fill="#BE6EFF" stroke="#BE6EFF"/>
<circle cx="629.50" cy="539.70" r="5.21" fill="#F36F6C" stroke="#F36F6C"/>
<circle cx="629.50" cy="539.70" r="5.21" fill="#28B4B8" stroke="#28B4B8"/>
<circle cx="654.77" cy="539.70" r="5.21" fill="#28B4B8" stroke="#28B4B8"/>
<circle cx="680.04" cy="539.70" r="5.21" fill="#F36F6C" stroke="#F36F6C"/>
<circle cx="680.04" cy="539.70" r="5.21" fill="#28B4B8" stroke="#28B4B8"/>
<circle cx="705.31" cy="539.70" r="5.21" fill="#28B4B8" stroke="#28B4B8"/>
<circle cx="705.31" cy="539.70" r="5.21" fill="#F36F6C" stroke="#F36F6C"/>
<circle cx="604.24" cy="553.20" r="5.21" fill="#F36F6C" stroke="#F36F6C"/>
<circle cx="604.24" cy="553.20" r="5.21" fill="#F36F6C" stroke="#F36F6C"/>
<circle cx="629.50" cy="553.20" r="5.21" fill="#28B4B8" stroke="#28B4B8"/>
<circle cx="629.50" cy="553.20" r="5.21" fill="#28B4B8" stroke="#28B4B8"/>
<circle cx="654.77" cy="553.20" r="5.21" fill="#76AB13" stroke="#76AB13"/>
<circle cx="705.31" cy="553.20" r="5.21" fill="#28B4B8" stroke="#28B4B8"/>
<circle cx="705.31" cy="553.20" r="5.21" fill="#28B4B8" stroke="#28B4B8"/>
<circle cx="629.50" cy="364.20" r="5.21" fill="#76AB13" stroke="#76AB13"/>
<circle cx="654.77" cy="364.20" r="5.21" fill="#28B4B8" stroke="#28B4B8"/>
<circle cx="654.77" cy="364.20" r="5.21" fill="#BE6EFF" stroke="#BE6EFF"/>
<circle cx="604.24" cy="377.70" r="5.21" fill="#76AB13" stroke="#76AB13"/>
<circle cx="604.24" cy="377.70" r="5.21" fill="#BE6EFF" stroke="#BE6EFF"/>
<circle cx="654.77" cy="377.70" r="5.21" fill="#76AB13" stroke="#76AB13"/>
<circle cx="705.31" cy="377.70" r="5.21" fill="#F36F6C" stroke="#F36F6C"/>
<circle cx="705.31" cy="391.20" r="5.21" fill="#28B4B8" stroke="#28B4B8"/>
<circle cx="705.31" cy="391.20" r="5.21" fill="#F36F6C" stroke="#F36F6C"/>
<circle cx="680.04" cy="404.70" r="5.21" fill="#28B4B8" stroke="#28B4B8"/>
<circle cx="705.31" cy="404.70" r="5.21" fill="#F36F6C" stroke="#F36F6C"/>
<circle cx="604.24" cy="418.20" r="5.21" fill="#28B4B8" stroke="#28B4B8"/>
<circle cx="654.77" cy="418.20" r="5.21" fill="#28B4B8" stroke="#28B4B8"/>
<circle cx="705.31" cy="418.20" r="5.21" fill="#28B4B8" stroke="#28B4B8"/>
<circle cx="705.31" cy="418.20" r="5.21" fill="#76AB13" stroke="#76AB13"/>
<circle cx="781.11" cy="566.70" r="5.21" fill="#28B4B8" stroke="#28B4B8"/>
<circle cx="831.64" cy="566.70" r="5.21" fill="#28B4B8" stroke="#28B4B8"/>
<circle cx="755.84" cy="580.20" r="5.21" fill="#28B4B8" stroke="#28B4B8"/>
<circle cx="831.64" cy="580.20" r="5.21" fill="#28B4B8" stroke="#28B4B8"/>
<circle cx="730.57" cy="593.70" r="5.21" fill="#28B4B8" stroke="#28B4B8"/>
<circle cx="730.57" cy="593.70" r="5.21" fill="#F36F6C" stroke="#F36F6C"/>
<circle cx="781.11" cy="593.70" r="5.21" fill="#28B4B8" stroke="#28B4B8"/>
<circle cx="831.64" cy="607.20" r="5.21" fill="#28B4B8" stroke="#28B4B8"/>
<circle cx="730.57" cy="620.70" r="5.21" fill="#28B4B8" stroke="#28B4B8"/>
<circle cx="730.57" cy="620.70" r="5.21" fill="#28B4B8" stroke="#28B4B8"/>
<circle cx="730.57" cy="688.20" r="5.21" fill="#28B4B8" stroke="#28B4B8"/>
<circle cx="755.84" cy="701.70" r="5.21" fill="#28B4B8" stroke="#28B4B8"/>
<circle cx="781.11" cy="431.70" r="5.21" fill="#28B4B8" stroke="#28B4B8"/>
<circle cx="730.57" cy="445.20" r="5.21" fill="#28B4B8" stroke="#28B4B8"/>
<circle cx="781.11" cy="445.20" r="5.21" fill="#28B4B8" stroke="#28B4B8"/>
<circle cx="781.11" cy="445.20" r="5.21" fill="#28B4B8" stroke="#28B4B8"/>
<circle cx="730.57" cy="458.70" r="5.21" fill="#28B4B8" stroke="#28B4B8"/>
<circle cx="730.57" cy="458.70" r="5.21" fill="#28B4B8" stroke="#28B4B8"/>
<circle cx="755.84" cy="458.70" r="5.21" fill="#28B4B8" stroke="#28B4B8"/>
<circle cx="755.84" cy="458.70" r="5.21" fill="#F36F6C" stroke="#F36F6C"/>
<circle cx="806.37" cy="472.20" r="5.21" fill="#76AB13" stroke="#76AB13"/>
<circle cx="730.57" cy="485.70" r="5.21" fill="#28B4B8" stroke="#28B4B8"/>
<circle cx="730.57" cy="485.70" r="5.21" fill="#28B4B8" stroke="#28B4B8"/>
<circle cx="755.84" cy="485.70" r="5.21" fill="#28B4B8" stroke="#28B4B8"/>
<circle cx="755.84" cy="485.70" r="5.21" fill="#28B4B8" stroke="#28B4B8"/>
<circle cx="755.84" cy="485.70" r="5.21" fill="#28B4B8" stroke="#28B4B8"/>
<circle cx="781.11" cy="485.70" r="5.21" fill="#76AB13" stroke="#76AB13"/>
<circle cx="831.64" cy="485.70" r="5.21" fill="#28B4B8" stroke="#28B4B8"/>
<circle cx="831.64" cy="485.70" r="5.21" fill="#28B4B8" stroke="#28B4B8"/>
<circle cx="755.84" cy="499.20" r="5.21" fill="#28B4B8" stroke="#28B4B8"/>
<circle cx="831.64" cy="499.20" r="5.21" fill="#28B4B8" stroke="#28B4B8"/>
<circle cx="730.57" cy="512.70" r="5.21" fill="#28B4B8" stroke="#28B4B8"/>
<circle cx="831.64" cy="512.70" r="5.21" fill="#28B4B8" stroke="#28B4B8"/>
<circle cx="730.57" cy="526.20" r="5.21" fill="#28B4B8" stroke="#28B4B8"/>
<circle cx="781.11" cy="526.20" r="5.21" fill="#28B4B8" stroke="#28B4B8"/>
<circle cx="755.84" cy="539.70" r="5.21" fill="#28B4B8" stroke="#28B4B8"/>
<circle cx="781.11" cy="539.70" r="5.21" fill="#28B4B8" stroke="#28B4B8"/>
<circle cx="730.57" cy="553.20" r="5.21" fill="#F36F6C" stroke="#F36F6C"/>
<circle cx="730.57" cy="553.20" r="5.21" fill="#BE6EFF" stroke="#BE6EFF"/>
<circle cx="755.84" cy="553.20" r="5.21" fill="#28B4B8" stroke="#28B4B8"/>
<circle cx="755.84" cy="553.20" r="5.21" fill="#28B4B8" stroke="#28B4B8"/>
<circle cx="831.64" cy="553.20" r="5.21" fill="#28B4B8" stroke="#28B4B8"/>
<circle cx="730.57" cy="364.20" r="5.21" fill="#28B4B8" stroke="#28B4B8"/>
<circle cx="781.11" cy="364.20" r="5.21" fill="#76AB13" stroke="#76AB13"/>
<circle cx="781.11" cy="364.20" r="5.21" fill="#28B4B8" stroke="#28B4B8"/>
<circle cx="806.37" cy="364.20" r="5.21" fill="#28B4B8" stroke="#28B4B8"/>
<circle cx="781.11" cy="377.70" r="5.21" fill="#76AB13" stroke="#76AB13"/>
<circle cx="781.11" cy="377.70" r="5.21" fill="#76AB13" stroke="#76AB13"/>
<circle cx="730.57" cy="391.20" r="5.21" fill="#28B4B8" stroke="#28B4B8"/>
<circle cx="755.84" cy="391.20" r="5.21" fill="#76AB13" stroke="#76AB13"/>
<circle cx="781.11" cy="391.20" r="5.21" fill="#F36F6C" stroke="#F36F6C"/>
<circle cx="781.11" cy="391.20" r="5.21" fill="#28B4B8" stroke="#28B4B8"/>
<circle cx="730.57" cy="404.70" r="5.21" fill="#28B4B8" stroke="#28B4B8"/>
<circle cx="730.57" cy="404.70" r="5.21" fill="#F36F6C" stroke="#F36F6C"/>
<circle cx="755.84" cy="404.70" r="5.21" fill="#76AB13" stroke="#76AB13"/>
<circle cx="781.11" cy="404.70" r="5.21" fill="#76AB13" stroke="#76AB13"/>
<circle cx="781.11" cy="404.70" r="5.21" fill="#76AB13" stroke="#76AB13"/>
<circle cx="730.57" cy="418.20" r="5.21" fill="#28B4B8" stroke="#28B4B8"/>
<circle cx="755.84" cy="418.20" r="5.21" fill="#28B4B8" stroke="#28B4B8"/>
<circle cx="755.84" cy="418.20" r="5.21" fill="#F36F6C" stroke="#F36F6C"/>
<circle cx="781.11" cy="418.20" r="5.21" fill="#28B4B8" stroke="#28B4B8"/>
<circle cx="781.11" cy="418.20" r="5.21" fill="#F36F6C" stroke="#F36F6C"/>
<circle cx="806.37" cy="418.20" r="5.21" fill="#28B4B8" stroke="#28B4B8"/>
<circle cx="806.37" cy="418.20" r="5.21" fill="#28B4B8" stroke="#28B4B8"/>
<circle cx="831.64" cy="418.20" r="5.21" fill="#BE6EFF" stroke="#BE6EFF"/>
<circle cx="831.64" cy="418.20" r="5.21" fill="#BE6EFF" stroke="#BE6EFF"/>
<circle cx="831.64" cy="418.20" r="5.21" fill="#28B4B8" stroke="#28B4B8"/>
<circle cx="831.64" cy="391.20" r="5.21" fill="#28B4B8" stroke="#28B4B8"/>
<circle cx="831.64" cy="391.20" r="5.21" fill="#28B4B8" stroke="#28B4B8"/>
<circle cx="856.91" cy="418.20" r="5.21" fill="#F36F6C" stroke="#F36F6C"/>
<circle cx="856.91" cy="418.20" r="5.21" fill="#28B4B8" stroke="#28B4B8"/>
<circle cx="907.44" cy="418.20" r="5.21" fill="#28B4B8" stroke="#28B4B8"/>
<circle cx="907.44" cy="418.20" r="5.21" fill="#28B4B8" stroke="#28B4B8"/>
<circle cx="907.44" cy="445.20" r="5.21" fill="#28B4B8" stroke="#28B4B8"/>
<circle cx="983.24" cy="485.70" r="5.21" fill="#28B4B8" stroke="#28B4B8"/>
<circle cx="983.24" cy="539.70" r="5.21" fill="#28B4B8" stroke="#28B4B8"/>
<circle cx="957.97" cy="566.70" r="5.21" fill="#28B4B8" stroke="#28B4B8"/>
</g>
<rect x="102.0" y="15.4" width="1054.7" height="859.9" fill="none" stroke="#333333" stroke-width="1.9"/>
<path d="M326.30 875.8v7.33M578.97 875.8v7.33M831.64 875.8v7.33M1084.31 875.8v7.33M101.3 620.70h-7.33M101.3 350.70h-7.33M101.3 80.70h-7.33" stroke="#333333" stroke-width="2.85" fill="none"/>
<text x="326.30" y="906" font-family="Liberation Sans, sans-serif" font-size="23.47" fill="#444444" text-anchor="middle">170</text>
<text x="578.97" y="906" font-family="Liberation Sans, sans-serif" font-size="23.47" fill="#444444" text-anchor="middle">180</text>
<text x="831.64" y="906" font-family="Liberation Sans, sans-serif" font-size="23.47" fill="#444444" text-anchor="middle">190</text>
<text x="1084.31" y="906" font-family="Liberation Sans, sans-serif" font-size="23.47" fill="#444444" text-anchor="middle">200</text>
<text x="88.1" y="630.30" font-family="Liberation Sans, sans-serif" font-size="23.47" fill="#444444" text-anchor="end">80</text>
<text x="88.1" y="360.30" font-family="Liberation Sans, sans-serif" font-size="23.47" fill="#444444" text-anchor="end">100</text>
<text x="88.1" y="90.30" font-family="Liberation Sans, sans-serif" font-size="23.47" fill="#444444" text-anchor="end">120</text>
<rect x="577.5" y="921.5" width="15.0" height="18.0" fill="none" stroke="#8c8c8c" stroke-width="1.0"/><rect x="599.5" y="921.5" width="14.0" height="18.0" fill="none" stroke="#8c8c8c" stroke-width="1.0"/>
<text x="626.25" y="940" font-family="Liberation Sans, sans-serif" font-size="29.33" fill="#000">(cm)</text>
<rect x="17.5" y="478.5" width="18.0" height="14.0" fill="none" stroke="#8c8c8c" stroke-width="1.0"/>
<rect x="17.5" y="456.5" width="18.0" height="15.0" fill="none" stroke="#8c8c8c" stroke-width="1.0"/>
<g transform="translate(35.6,496.5) rotate(-90)">
<text x="52.15" y="0" font-family="Liberation Sans, sans-serif" font-size="29.33" fill="#000">(kg)</text>
</g>
<rect x="1204.5" y="338.5" width="15.0" height="18.0" fill="none" stroke="#8c8c8c" stroke-width="1.0"/><rect x="1226.5" y="338.5" width="15.0" height="18.0" fill="none" stroke="#8c8c8c" stroke-width="1.0"/><rect x="1248.5" y="338.5" width="15.0" height="18.0" fill="none" stroke="#8c8c8c" stroke-width="1.0"/><rect x="1270.5" y="338.5" width="15.0" height="18.0" fill="none" stroke="#8c8c8c" stroke-width="1.0"/>
<circle cx="1224.4" cy="397.10" r="5.21" fill="#F36F6C" stroke="#F36F6C" fill-opacity="0.78" stroke-opacity="0.78" stroke-width="2.1"/>
<rect x="1264.5" y="391.5" width="11.0" height="14.0" fill="none" stroke="#8c8c8c" stroke-width="1.0"/><rect x="1282.5" y="391.5" width="11.0" height="14.0" fill="none" stroke="#8c8c8c" stroke-width="1.0"/><rect x="1300.5" y="391.5" width="11.0" height="14.0" fill="none" stroke="#8c8c8c" stroke-width="1.0"/>
<circle cx="1224.4" cy="443.18" r="5.21" fill="#76AB13" stroke="#76AB13" fill-opacity="0.78" stroke-opacity="0.78" stroke-width="2.1"/>
<rect x="1264.5" y="437.5" width="11.0" height="14.0" fill="none" stroke="#8c8c8c" stroke-width="1.0"/><rect x="1282.5" y="437.5" width="11.0" height="14.0" fill="none" stroke="#8c8c8c" stroke-width="1.0"/><rect x="1300.5" y="437.5" width="11.0" height="14.0" fill="none" stroke="#8c8c8c" stroke-width="1.0"/>
<circle cx="1224.4" cy="489.26" r="5.21" fill="#28B4B8" stroke="#28B4B8" fill-opacity="0.78" stroke-opacity="0.78" stroke-width="2.1"/>
<rect x="1264.5" y="483.5" width="11.0" height="14.0" fill="none" stroke="#8c8c8c" stroke-width="1.0"/><rect x="1282.5" y="483.5" width="11.0" height="14.0" fill="none" stroke="#8c8c8c" stroke-width="1.0"/>
<circle cx="1224.4" cy="535.34" r="5.21" fill="#BE6EFF" stroke="#BE6EFF" fill-opacity="0.78" stroke-opacity="0.78" stroke-width="2.1"/>
<rect x="1264.5" y="529.5" width="11.0" height="14.0" fill="none" stroke="#8c8c8c" stroke-width="1.0"/><rect x="1282.5" y="529.5" width="11.0" height="14.0" fill="none" stroke="#8c8c8c" stroke-width="1.0"/>
</svg></body></html>
